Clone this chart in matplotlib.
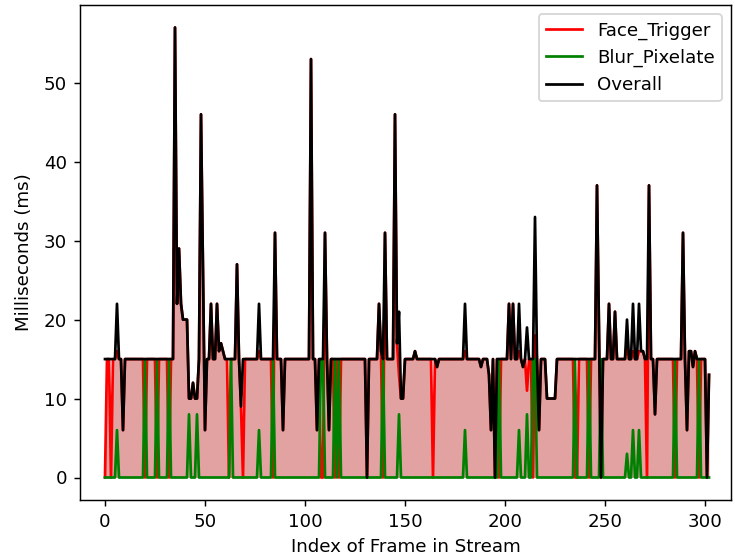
import matplotlib
matplotlib.use("Agg")
import matplotlib.pyplot as plt
import numpy as np

# Overall processing time per frame (ms), frames 0..302
overall = [
    15, 15, 15, 15, 15, 15, 22, 15, 15, 6,
    15, 15, 15, 15, 15, 15, 15, 15, 15, 15,
    15, 15, 15, 15, 15, 15, 15, 15, 15, 15,
    15, 15, 15, 15, 15, 57, 22, 29, 22, 20,
    20, 20, 10, 10, 12, 10, 10, 15, 46, 26,
    6, 15, 15, 22, 15, 15, 22, 16, 17, 16,
    15, 15, 15, 15, 15, 15, 27, 15, 9, 15,
    15, 15, 15, 15, 15, 15, 15, 22, 15, 15,
    15, 15, 15, 15, 15, 31, 15, 15, 15, 6,
    15, 15, 15, 15, 15, 15, 15, 15, 15, 15,
    15, 15, 15, 53, 15, 15, 6, 15, 15, 15,
    31, 15, 6, 15, 15, 15, 15, 15, 15, 15,
    15, 15, 15, 15, 15, 15, 15, 15, 15, 15,
    15, 0, 15, 15, 15, 15, 15, 22, 16, 15,
    31, 15, 15, 15, 15, 46, 17, 21, 10, 10,
    15, 15, 15, 15, 15, 16, 15, 15, 15, 15,
    15, 15, 15, 15, 15, 15, 14, 15, 15, 15,
    15, 15, 15, 15, 15, 15, 15, 15, 15, 15,
    22, 15, 15, 15, 15, 15, 15, 15, 14, 15,
    15, 15, 13, 6, 15, 0, 15, 15, 15, 15,
    15, 15, 22, 15, 22, 15, 15, 22, 15, 14,
    15, 19, 15, 15, 15, 33, 15, 6, 15, 15,
    15, 10, 10, 10, 10, 10, 15, 15, 15, 15,
    15, 15, 15, 15, 15, 15, 15, 15, 15, 15,
    15, 15, 15, 15, 15, 15, 37, 19, 0, 15,
    15, 15, 22, 15, 15, 21, 15, 15, 15, 15,
    15, 20, 15, 15, 22, 15, 15, 22, 16, 16,
    15, 15, 37, 15, 15, 8, 15, 15, 15, 15,
    15, 15, 15, 15, 15, 15, 15, 15, 15, 31,
    15, 6, 16, 16, 14, 16, 15, 15, 15, 15,
    15, 0, 13,
]

# Face_Trigger time per frame (ms)
face_trigger = [
    0, 15, 15, 0, 15, 15, 16, 15, 15, 6,
    15, 15, 15, 15, 15, 15, 15, 15, 15, 15,
    0, 15, 15, 15, 15, 15, 0, 15, 15, 15,
    15, 15, 0, 15, 15, 57, 22, 29, 22, 20,
    20, 20, 10, 10, 12, 10, 10, 15, 46, 26,
    6, 15, 15, 22, 15, 15, 22, 16, 17, 16,
    15, 15, 0, 15, 15, 15, 27, 15, 9, 0,
    15, 15, 15, 15, 15, 15, 15, 16, 15, 15,
    15, 15, 15, 15, 0, 31, 15, 15, 15, 6,
    15, 15, 15, 15, 15, 15, 15, 15, 15, 15,
    15, 15, 15, 53, 15, 15, 6, 15, 0, 0,
    31, 15, 6, 15, 15, 0, 15, 0, 15, 15,
    15, 15, 15, 15, 15, 15, 15, 15, 15, 15,
    15, 0, 15, 15, 15, 15, 15, 22, 16, 0,
    31, 15, 15, 15, 15, 46, 17, 13, 10, 10,
    15, 15, 15, 15, 15, 16, 15, 15, 15, 15,
    15, 15, 15, 15, 0, 15, 14, 15, 15, 15,
    15, 15, 15, 15, 15, 15, 15, 15, 15, 15,
    16, 15, 15, 15, 15, 15, 15, 15, 14, 15,
    15, 15, 13, 6, 15, 0, 15, 0, 15, 15,
    15, 15, 22, 15, 22, 15, 15, 16, 15, 14,
    15, 11, 15, 15, 0, 18, 15, 6, 15, 15,
    15, 10, 10, 10, 10, 10, 15, 15, 15, 15,
    15, 15, 15, 15, 15, 0, 0, 15, 15, 15,
    15, 15, 0, 15, 15, 15, 37, 19, 0, 15,
    15, 15, 22, 15, 15, 21, 15, 15, 15, 15,
    15, 17, 15, 15, 16, 15, 15, 16, 16, 16,
    15, 0, 37, 15, 15, 8, 15, 15, 15, 15,
    15, 15, 15, 15, 15, 0, 15, 15, 15, 31,
    15, 6, 16, 16, 14, 16, 15, 0, 15, 15,
    15, 0, 13,
]

# Blur_Pixelate time per frame (ms)
blur_pixelate = [
    0, 0, 0, 0, 0, 0, 6, 0, 0, 0,
    0, 0, 0, 0, 0, 0, 0, 0, 0, 0,
    15, 0, 0, 0, 0, 0, 15, 0, 0, 0,
    0, 0, 15, 0, 0, 0, 0, 0, 0, 0,
    0, 0, 8, 0, 0, 0, 8, 0, 0, 0,
    0, 0, 0, 0, 0, 0, 0, 0, 0, 0,
    0, 0, 0, 15, 0, 0, 0, 0, 0, 0,
    0, 0, 0, 0, 0, 0, 0, 6, 0, 0,
    0, 0, 0, 0, 15, 0, 0, 0, 0, 0,
    0, 0, 0, 0, 0, 0, 0, 0, 0, 0,
    0, 0, 0, 0, 0, 0, 0, 0, 15, 15,
    0, 0, 0, 0, 0, 15, 0, 15, 0, 0,
    0, 0, 0, 0, 0, 0, 0, 0, 0, 0,
    0, 0, 0, 0, 0, 0, 0, 0, 0, 15,
    0, 0, 0, 0, 0, 0, 0, 8, 0, 0,
    0, 0, 0, 0, 0, 0, 0, 0, 0, 0,
    0, 0, 0, 0, 0, 0, 0, 0, 0, 0,
    0, 0, 0, 0, 0, 0, 0, 0, 0, 0,
    6, 0, 0, 0, 0, 0, 0, 0, 0, 0,
    0, 0, 0, 0, 0, 0, 0, 15, 0, 0,
    0, 0, 0, 0, 0, 0, 0, 6, 0, 0,
    0, 8, 0, 0, 15, 15, 0, 0, 0, 0,
    0, 0, 0, 0, 0, 0, 0, 0, 0, 0,
    0, 0, 0, 0, 0, 15, 0, 0, 0, 0,
    0, 0, 15, 0, 0, 0, 0, 0, 15, 0,
    0, 0, 0, 0, 0, 0, 0, 0, 0, 0,
    0, 3, 0, 0, 6, 0, 0, 6, 0, 0,
    0, 0, 0, 0, 0, 0, 0, 0, 0, 0,
    0, 0, 0, 0, 0, 15, 0, 0, 0, 0,
    0, 0, 0, 0, 0, 0, 0, 15, 0, 0,
    0, 0, 0,
]

series_labels = ["Face_Trigger", "Blur_Pixelate", "Overall"]
x_label = "Index of Frame in Stream"
y_label = "Milliseconds (ms)"

DPI = 131
fig = plt.figure(figsize=(735 / DPI, 559 / DPI), dpi=DPI)
ax = fig.add_axes([80 / 735, 59 / 559, 651 / 735, 495 / 559])

xf = np.arange(len(face_trigger))
xb = np.arange(len(blur_pixelate))
xo = np.arange(len(overall))

ax.plot(xf, face_trigger, color="red", label=series_labels[0])
ax.fill_between(xf, face_trigger, 0, color="#e2a2a2", linewidth=0)
ax.plot(xb, blur_pixelate, color="green", label=series_labels[1])
ax.plot(xo, overall, color="black", label=series_labels[2])

ax.set_xlim(-12.5, 313)
ax.set_ylim(-2.85, 59.85)
ax.set_xticks([0, 50, 100, 150, 200, 250, 300])
ax.set_yticks([0, 10, 20, 30, 40, 50])
ax.set_xlabel(x_label)
ax.set_ylabel(y_label, labelpad=6)
ax.legend(loc="upper right")

fig.savefig("out.png", dpi=DPI)
